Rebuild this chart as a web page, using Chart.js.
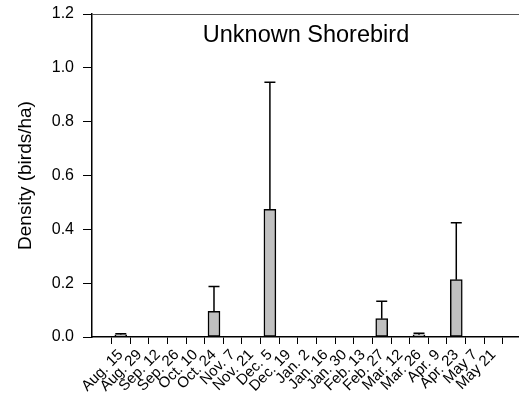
<!DOCTYPE html>
<html>
<head>
<meta charset="utf-8">
<script src="https://cdn.jsdelivr.net/npm/chart.js@4"></script>
<style>
  html, body { margin: 0; padding: 0; background: #fff; }
  #wrap { width: 519px; height: 411px; }
</style>
</head>
<body>
<div id="wrap"><canvas id="grafica"></canvas></div>
<script>
// datos
const categorias = ["Aug. 15", "Aug. 29", "Sep. 12", "Sep. 26", "Oct. 10", "Oct. 24", "Nov. 7",
    "Nov. 21", "Dec. 5", "Dec. 19", "Jan. 2", "Jan. 16", "Jan. 30", "Feb. 13", "Feb. 27",
    "Mar. 12", "Mar. 26", "Apr. 9", "Apr. 23", "May 7", "May 21"];
const densidad = [0.008, 0, 0, 0, 0, 0.095, 0, 0, 0.474, 0, 0, 0, 0, 0, 0.068, 0, 0.008, 0, 0.213, 0, 0];
const errorEst = [0.004, 0, 0, 0, 0, 0.093, 0, 0, 0.472, 0, 0, 0, 0, 0, 0.065, 0, 0.006, 0, 0.211, 0, 0];
const ticksY = [0, 0.2, 0.4, 0.6, 0.8, 1.0, 1.2];
const titulo = "Unknown Shorebird";
const tituloEjeY = "Density (birds/ha)";

const fuente = "'Liberation Sans', Arial, sans-serif";

// barras de error y linea superior
const pluginExtras = {
    id: "extras",
    afterDatasetsDraw(chart) {
        const ctx = chart.ctx;
        const x = chart.scales.x;
        const y = chart.scales.y;
        const area = chart.chartArea;
        ctx.save();
        ctx.strokeStyle = "#000";
        ctx.lineWidth = 1.5;
        densidad.forEach((v, i) => {
            if (!errorEst[i]) return;
            const px = x.getPixelForValue(i);
            const y0 = y.getPixelForValue(v);
            const y1 = y.getPixelForValue(v + errorEst[i]);
            ctx.beginPath();
            ctx.moveTo(px, y0);
            ctx.lineTo(px, y1);
            ctx.moveTo(px - 5.5, y1);
            ctx.lineTo(px + 5.5, y1);
            ctx.stroke();
        });
        // linea de arriba
        ctx.strokeStyle = "#555";
        ctx.lineWidth = 1;
        ctx.beginPath();
        ctx.moveTo(area.left, area.top + 0.5);
        ctx.lineTo(chart.width, area.top + 0.5);
        ctx.stroke();
        // titulo dentro del area
        ctx.fillStyle = "#000";
        ctx.font = "23.5px " + fuente;
        ctx.textAlign = "center";
        ctx.textBaseline = "alphabetic";
        ctx.fillText(titulo, 306, 42);
        ctx.restore();
    }
};

function crearGrafica() {
    const ctx = document.getElementById("grafica").getContext("2d");
    new Chart(ctx, {
        type: "bar",
        data: {
            datasets: [{
                data: densidad.map((v, i) => ({ x: i, y: v })),
                backgroundColor: "#c0c0c0",
                borderColor: "#000",
                borderWidth: 1.5,
                borderSkipped: false,
                barThickness: 12
            }]
        },
        options: {
            responsive: true,
            maintainAspectRatio: false,
            animation: false,
            layout: { padding: { top: 14, right: 0, left: 0, bottom: 0 } },
            plugins: {
                legend: { display: false },
                tooltip: { enabled: false }
            },
            scales: {
                x: {
                    type: "linear",
                    min: -1,
                    max: 20.82,
                    afterBuildTicks: (eje) => {
                        eje.ticks = categorias.map((_, i) => ({ value: i }));
                    },
                    afterFit: (eje) => {
                        eje.height = 74;
                        eje.paddingLeft = 0;
                        eje.paddingRight = 0;
                    },
                    ticks: {
                        autoSkip: false,
                        maxRotation: 45,
                        minRotation: 45,
                        padding: 2,
                        color: "#000",
                        font: { family: fuente, size: 15 },
                        callback: (v) => categorias[v]
                    },
                    grid: { drawOnChartArea: false, drawTicks: true, tickLength: 7, color: "#000" },
                    border: { display: true, color: "#000", width: 1.5 }
                },
                y: {
                    min: 0,
                    max: 1.2,
                    afterBuildTicks: (eje) => {
                        eje.ticks = ticksY.map(v => ({ value: v }));
                    },
                    afterFit: (eje) => {
                        eje.width = 92;
                        eje.paddingTop = 0;
                        eje.paddingBottom = 0;
                    },
                    ticks: {
                        padding: 9,
                        color: "#000",
                        font: { family: fuente, size: 16 },
                        callback: (v) => v.toFixed(1)
                    },
                    grid: { drawOnChartArea: false, drawTicks: true, tickLength: 9, color: "#000" },
                    border: { display: true, color: "#000", width: 1.5 },
                    title: {
                        display: true,
                        text: tituloEjeY,
                        color: "#000",
                        font: { family: fuente, size: 19 },
                        padding: { top: 14, bottom: 0 }
                    }
                }
            }
        },
        plugins: [pluginExtras]
    });
}

document.addEventListener("DOMContentLoaded", function() {
    crearGrafica();
});
</script>
</body>
</html>
